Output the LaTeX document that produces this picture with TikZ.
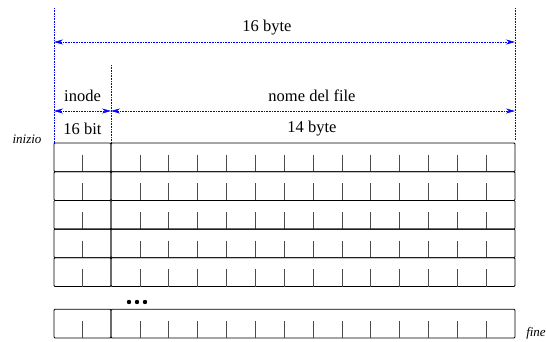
\documentclass[tikz,border=0pt]{standalone}
\usepackage{fontspec}
\setmainfont{Liberation Serif}
\newfontfamily\labfont{Liberation Serif}
\usetikzlibrary{arrows.meta}
\begin{document}
\begin{tikzpicture}[x=1pt,y=-1pt,
 dim/.style={blue, densely dotted, line width=0.6pt},
 dimarrow/.style={dim, {Stealth[length=9pt,width=5pt]}-{Stealth[length=9pt,width=5pt]}},
 cell/.style={draw, line width=0.8pt, rounded corners=1pt},
 tick/.style={draw=black!70, line width=0.7pt},
 lab/.style={font=\labfont\fontsize{16.5}{19}\selectfont, inner sep=0pt},
 side/.style={font=\labfont\fontsize{13}{15}\selectfont\itshape, inner sep=0pt}]
\useasboundingbox (0,0) rectangle (546,342);
% reference coordinates
\coordinate (Ltop) at (54,8);
\coordinate (Lbot) at (54,143);
\coordinate (Rtop) at (515,8);
\coordinate (Rbot) at (515,140);
\coordinate (Mtop) at (111,65);
\coordinate (Mbot) at (111,143);
\coordinate (La) at (54,42);
\coordinate (Ra) at (515,42);
\coordinate (Lb) at (54,111);
\coordinate (Mb) at (111,111);
\coordinate (Rb) at (515,111);
% dimension guides
\draw[dim] (Ltop) -- (Lbot);
\draw[dim] (Rtop) -- (Rbot);
\draw[dim] (Mtop) -- (Mbot);
\draw[dimarrow] (La) -- (Ra);
\draw[dimarrow] (Lb) -- (Mb);
\draw[dimarrow] (Mb) -- (Rb);
% labels
\node[lab] (t16) at (267,28) {16 byte};
\node[lab] (tinode) at (82.5,96) {inode};
\node[lab] (tname) at (312,96) {nome del file};
\node[lab] (t16bit) at (82.5,129) {16 bit};
\node[lab] (t14) at (312,129) {14 byte};
\node[side] (tinizio) at (27,139) {inizio};
\node[side] (tfine) at (536,333) {fine};
% rows
\foreach \t in {143,171.7,200.4,229.1,257.8,309.3} {
  \draw[cell] (54,\t) rectangle (111,\t+28.7);
  \draw[cell] (111,\t) rectangle (515,\t+28.7);
  \draw[tick] (82.5,\t+11.5) -- (82.5,\t+28.7);
  \foreach \k in {1,...,13} {
    \draw[tick] (111+28.857*\k,\t+11.5) -- (111+28.857*\k,\t+28.7);
  }
}
% ellipsis
\foreach \x in {129,137,145} \fill (\x,302) circle (2.2pt);
\end{tikzpicture}
\end{document}
